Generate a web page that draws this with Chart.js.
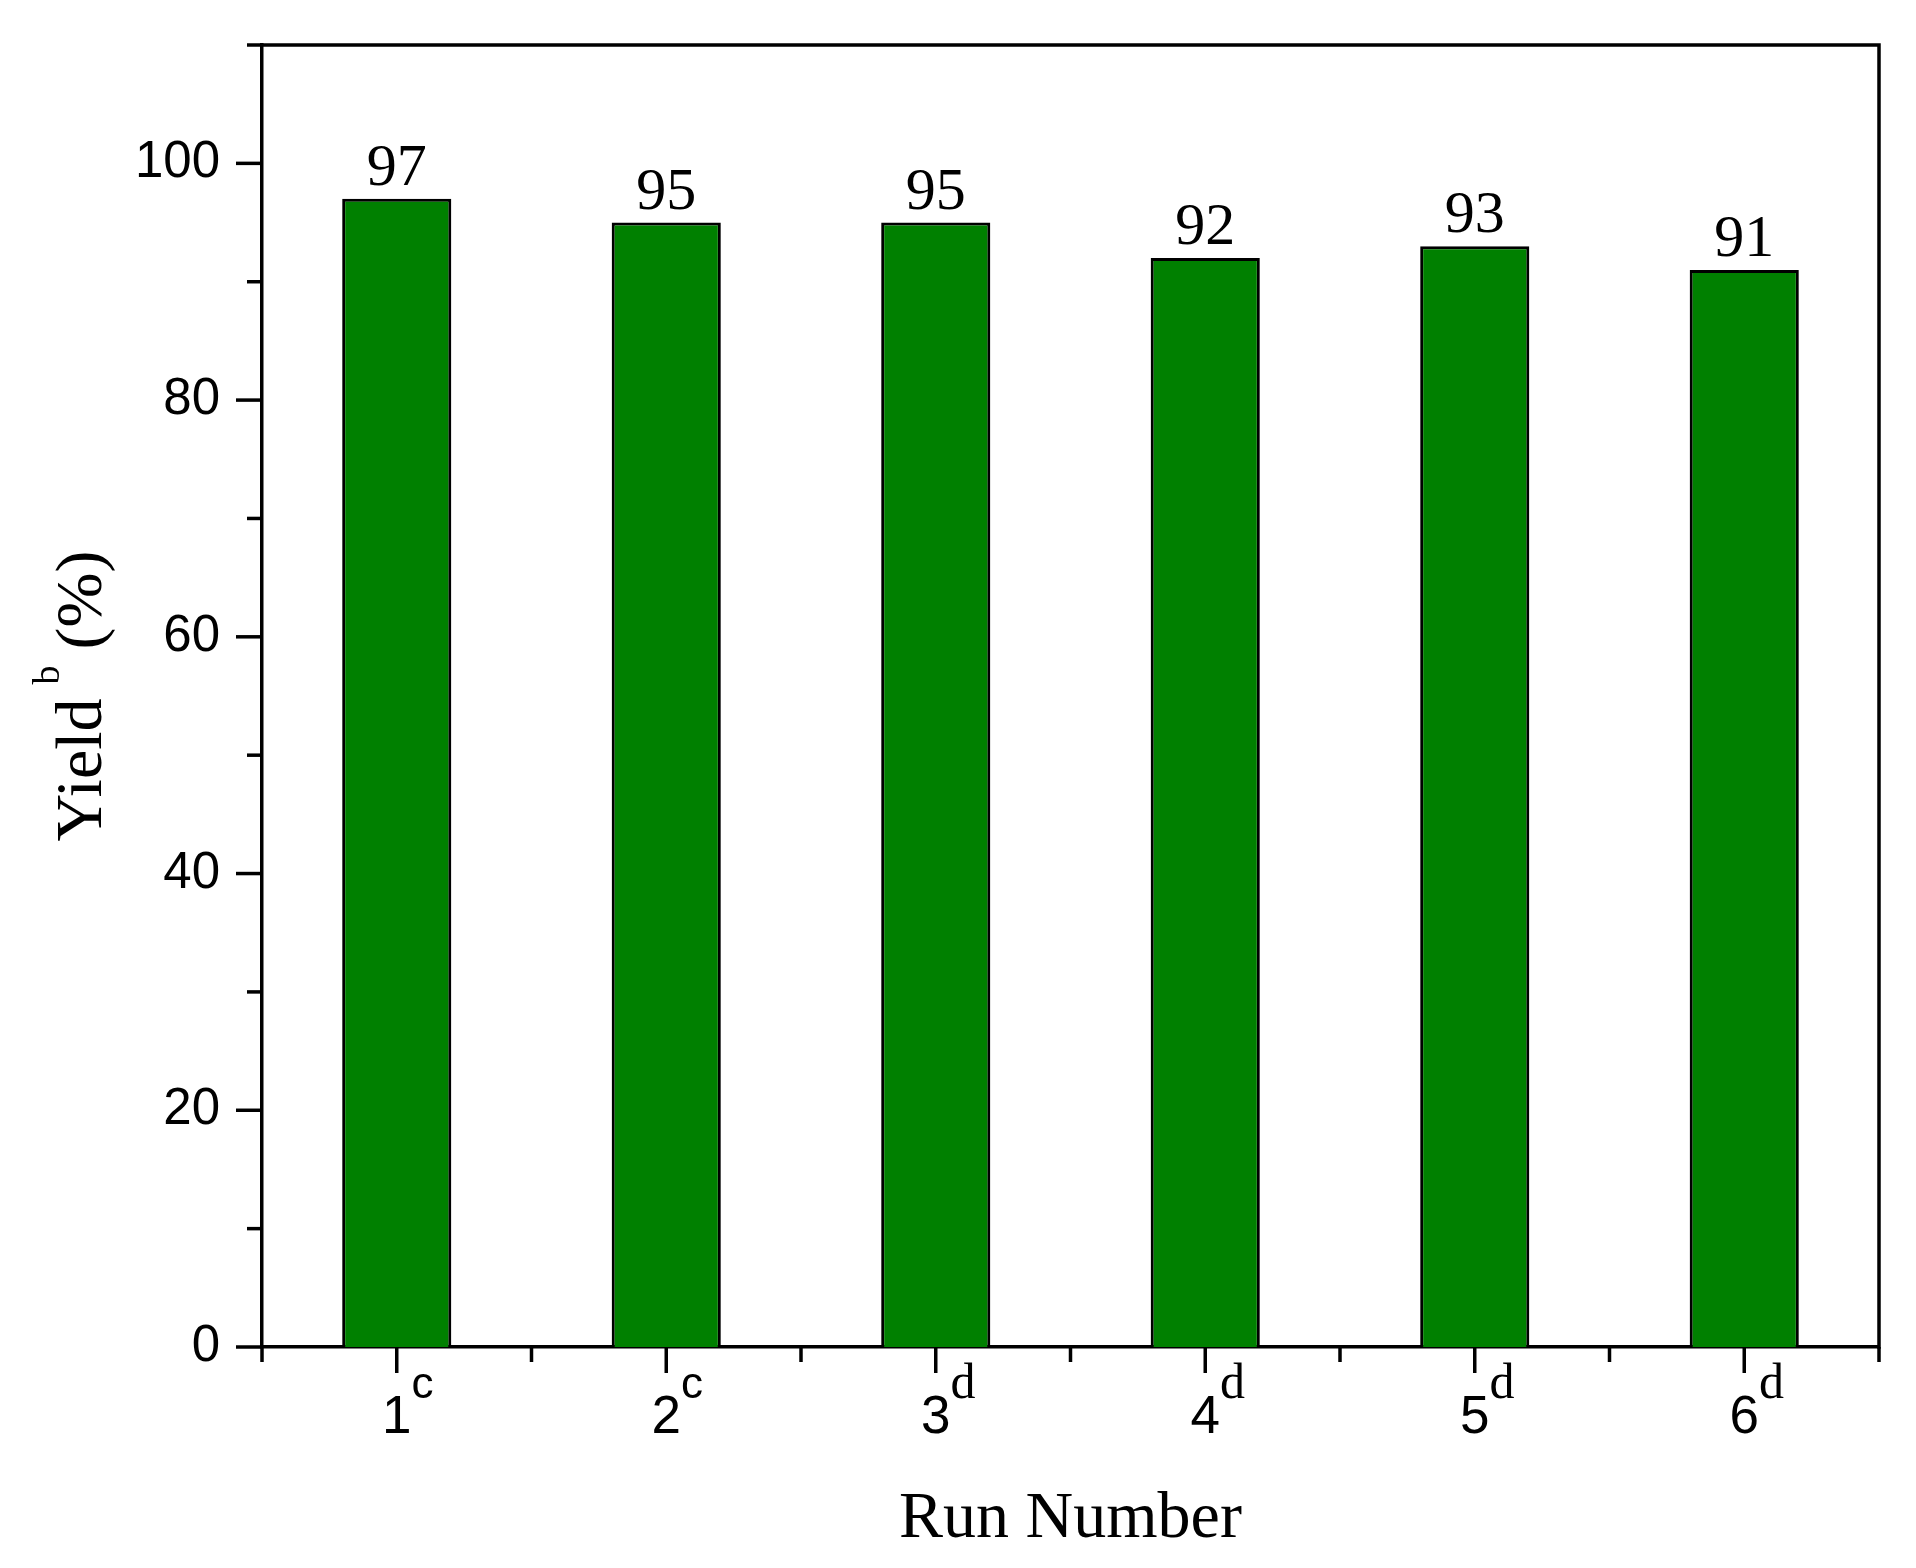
<!DOCTYPE html>
<html lang="en">
<head>
  <meta charset="UTF-8" />
  <title>Yield vs Run Number</title>
  <script src="https://cdn.jsdelivr.net/npm/chart.js"></script>
  <style>
    body {
      margin: 0;
      padding: 0;
      background: #fff;
    }
    canvas {
      display: block;
    }
  </style>
</head>
<body>
  <canvas id="yieldChart" width="1916" height="1568"></canvas>

  <script>
    // Data
    const runs = ['1', '2', '3', '4', '5', '6'];
    const runNotes = ['c', 'c', 'd', 'd', 'd', 'd'];
    const yields = [97, 95, 95, 92, 93, 91];

    const yMin = 0;
    const yMax = 110;
    const yStep = 10;

    const SANS = '"Liberation Sans", Arial, sans-serif';
    const SERIF = '"Liberation Serif", "Times New Roman", serif';

    // Draws frame, tick marks, value labels, x labels with superscripts and axis titles
    const decorations = {
      id: 'decorations',
      afterDatasetsDraw(chart) {
        const ctx = chart.ctx;
        const area = chart.chartArea;
        const xs = chart.scales.x;
        const ys = chart.scales.y;

        ctx.save();
        ctx.strokeStyle = '#000';
        ctx.fillStyle = '#000';
        ctx.lineCap = 'square';

        // top + right frame
        ctx.lineWidth = 3.5;
        ctx.beginPath();
        ctx.moveTo(area.left, area.top);
        ctx.lineTo(area.right, area.top);
        ctx.lineTo(area.right, area.bottom);
        ctx.stroke();

        // y tick marks (major every 20, minor in between)
        ctx.lineCap = 'butt';
        for (let v = yMin; v <= yMax; v += yStep) {
          const py = ys.getPixelForValue(v);
          const len = v % 20 === 0 ? 26 : 15;
          ctx.beginPath();
          ctx.moveTo(area.left - len, py);
          ctx.lineTo(area.left, py);
          ctx.stroke();
        }

        // x tick marks: major at categories, minor at boundaries
        for (let i = 0; i <= runs.length; i++) {
          const px = xs.getPixelForValue(i - 0.5);
          ctx.beginPath();
          ctx.moveTo(px, area.bottom);
          ctx.lineTo(px, area.bottom + 15);
          ctx.stroke();
        }
        runs.forEach((r, i) => {
          const px = xs.getPixelForValue(i);
          ctx.beginPath();
          ctx.moveTo(px, area.bottom);
          ctx.lineTo(px, area.bottom + 26);
          ctx.stroke();
        });

        // value labels above bars
        ctx.font = '60px ' + SERIF;
        ctx.textAlign = 'center';
        ctx.textBaseline = 'alphabetic';
        const meta = chart.getDatasetMeta(0);
        meta.data.forEach((bar, i) => {
          ctx.fillText(String(yields[i]), bar.x, bar.y - 14);
        });

        // x labels: digit + superscript note
        runs.forEach((r, i) => {
          const px = xs.getPixelForValue(i);
          ctx.font = '53px ' + SANS;
          ctx.textAlign = 'center';
          const w = ctx.measureText(r).width;
          ctx.fillText(r, px, area.bottom + 86);
          ctx.textAlign = 'left';
          if (runNotes[i] === 'c') {
            ctx.font = '44px ' + SANS;
          } else {
            ctx.font = '50px ' + SERIF;
          }
          ctx.fillText(runNotes[i], px + w / 2, area.bottom + 51);
        });

        // x axis title
        ctx.font = '66px ' + SERIF;
        ctx.textAlign = 'center';
        ctx.fillText('Run Number', (area.left + area.right) / 2, 1537);

        // y axis title (rotated) with superscript b
        ctx.translate(101, (area.top + area.bottom) / 2);
        ctx.rotate(-Math.PI / 2);
        ctx.textAlign = 'left';
        ctx.font = '66px ' + SERIF;
        const wYield = ctx.measureText('Yield').width;
        const wPct = ctx.measureText('(%)').width;
        ctx.font = '38px ' + SERIF;
        const wB = ctx.measureText('b').width;
        const total = wYield + 14 + wB + 16 + wPct;
        let x0 = -total / 2;
        ctx.font = '66px ' + SERIF;
        ctx.fillText('Yield', x0, 0);
        x0 += wYield + 14;
        ctx.font = '38px ' + SERIF;
        ctx.fillText('b', x0, -42);
        x0 += wB + 16;
        ctx.font = '66px ' + SERIF;
        ctx.fillText('(%)', x0, 0);

        ctx.restore();
      }
    };

    const ctx = document.getElementById('yieldChart').getContext('2d');
    const yieldChart = new Chart(ctx, {
      type: 'bar',
      data: {
        labels: runs,
        datasets: [{
          data: yields,
          backgroundColor: '#008000',
          borderColor: '#000',
          borderWidth: 3,
          barPercentage: 0.405,
          categoryPercentage: 1.0
        }]
      },
      options: {
        responsive: false,
        animation: false,
        layout: {
          padding: { top: 45, right: 37, left: 0, bottom: 0 }
        },
        plugins: {
          legend: { display: false },
          tooltip: { enabled: false }
        },
        scales: {
          x: {
            type: 'category',
            offset: true,
            grid: { display: false },
            border: { display: true, color: '#000', width: 3.5 },
            ticks: { display: false },
            afterFit: (scale) => { scale.height = 221; }
          },
          y: {
            min: yMin,
            max: yMax,
            grid: { display: false },
            border: { display: true, color: '#000', width: 3.5 },
            ticks: {
              stepSize: yStep,
              color: '#000',
              padding: 34,
              font: { family: SANS, size: 51 },
              callback: (v) => (v % 20 === 0 && v <= 100 ? v : '')
            },
            afterFit: (scale) => {
              scale.width = 262;
              // keep the plot frame where the figure has it
              scale.paddingTop = 0;
              scale.paddingBottom = 0;
            }
          }
        }
      },
      plugins: [decorations]
    });
  </script>
</body>
</html>
